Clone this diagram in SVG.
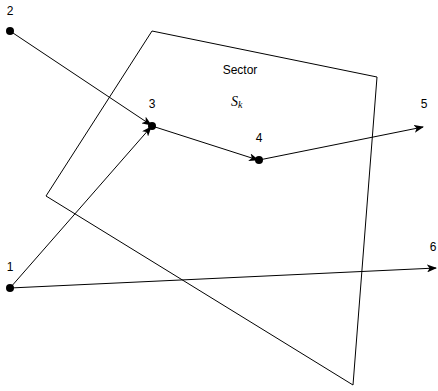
<svg xmlns="http://www.w3.org/2000/svg" width="438" height="391" viewBox="0 0 438 391">
<style>
.lbl{font-family:"Liberation Sans",Arial,sans-serif;font-size:12px;fill:#000;text-anchor:middle}
.ln{fill:none;stroke:#000;stroke-width:1}
.dot{fill:#000}
</style>
<defs>
<marker id="ah" markerWidth="10" markerHeight="8" refX="9" refY="4" orient="auto" markerUnits="userSpaceOnUse">
<path d="M0,0 L10,4 L0,8 L2.5,4 Z" fill="#000"/>
</marker>
</defs>
<rect width="438" height="391" fill="#fff"/>
<g id="sector">
<polygon class="ln" points="152,31 377,77 353,385 46,196"/>
<text class="lbl" x="240" y="74">Sector</text>
<text x="231" y="106" font-family="Liberation Serif,serif" font-style="italic" font-size="14">S<tspan font-size="10" dy="2">k</tspan></text>
</g>
<g id="connectors">
<line class="ln" x1="10" y1="31" x2="151" y2="125" marker-end="url(#ah)"/>
<line class="ln" x1="10" y1="288" x2="151" y2="127" marker-end="url(#ah)"/>
<line class="ln" x1="152" y1="126" x2="258" y2="160" marker-end="url(#ah)"/>
<line class="ln" x1="259" y1="160" x2="423" y2="127" marker-end="url(#ah)"/>
<line class="ln" x1="10" y1="288" x2="436" y2="268" marker-end="url(#ah)"/>
</g>
<g id="n1"><circle class="dot" cx="10" cy="288" r="4"/><text class="lbl" x="10" y="271">1</text></g>
<g id="n2"><circle class="dot" cx="10" cy="31" r="4"/><text class="lbl" x="10" y="15">2</text></g>
<g id="n3"><circle class="dot" cx="152" cy="126" r="4"/><text class="lbl" x="152" y="108">3</text></g>
<g id="n4"><circle class="dot" cx="259" cy="160" r="4"/><text class="lbl" x="259" y="142">4</text></g>
<g id="n5"><text class="lbl" x="424" y="108">5</text></g>
<g id="n6"><text class="lbl" x="433" y="251">6</text></g>
</svg>
